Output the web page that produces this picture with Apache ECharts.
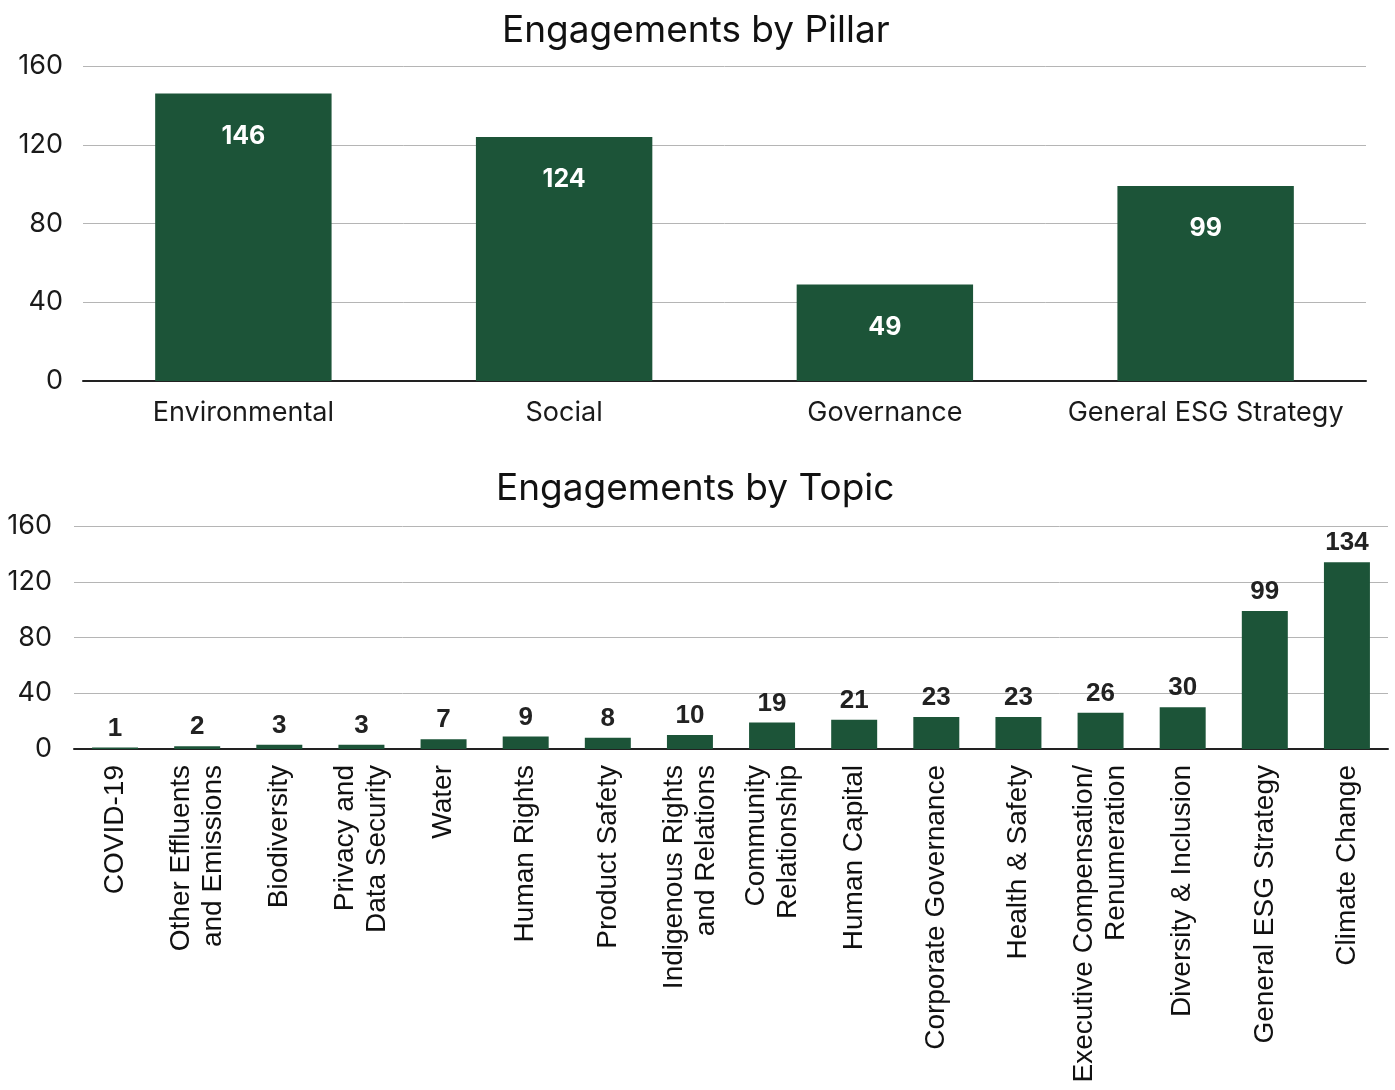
<!DOCTYPE html>
<html>
<head>
<meta charset="utf-8">
<style>
  html, body { margin: 0; padding: 0; background: #ffffff; }
  #chart { width: 1395px; height: 1090px; }
</style>
<script src="https://cdn.jsdelivr.net/npm/echarts@6/dist/echarts.min.js"></script>
</head>
<body>
<div id="chart"></div>
<script>
// Engagement counts by ESG pillar
const pillarNames = ['Environmental', 'Social', 'Governance', 'General ESG Strategy'];
const pillarValues = [146, 124, 49, 99];

// Engagement counts by topic (ascending order)
const topicNames = [
  'COVID-19',
  'Other Effluents\nand Emissions',
  'Biodiversity',
  'Privacy and\nData Security',
  'Water',
  'Human Rights',
  'Product Safety',
  'Indigenous Rights\nand Relations',
  'Community\nRelationship',
  'Human Capital',
  'Corporate Governance',
  'Health & Safety',
  'Executive Compensation/\nRenumeration',
  'Diversity & Inclusion',
  'General ESG Strategy',
  'Climate Change'
];
const topicValues = [1, 2, 3, 3, 7, 9, 8, 10, 19, 21, 23, 23, 26, 30, 99, 134];

// Shared value-axis ticks
const yMin = 0;
const yMax = 160;
const yStep = 40;

const barColor = '#1c5438';
const titleFont = 'Inter, "Noto Sans", sans-serif';
const labelFont = '"Liberation Sans", Arial, sans-serif';

const chart = echarts.init(document.getElementById('chart'), null, { renderer: 'canvas' });

const valueAxisBase = {
  type: 'value',
  min: yMin,
  max: yMax,
  interval: yStep,
  axisLine: { show: false },
  axisTick: { show: false },
  splitLine: { lineStyle: { color: '#b5b5b5', width: 1 } }
};

chart.setOption({
  animation: false,
  title: [
    {
      text: 'Engagements by Pillar',
      left: 497,
      top: 7,
      textStyle: { fontFamily: titleFont, fontSize: 37, fontWeight: 'normal', color: '#111' }
    },
    {
      text: 'Engagements by Topic',
      left: 491,
      top: 465,
      textStyle: { fontFamily: titleFont, fontSize: 37, fontWeight: 'normal', color: '#111' }
    }
  ],
  grid: [
    { left: 83, right: 29, top: 66, height: 315 },
    { left: 74, right: 7, top: 526, height: 223 }
  ],
  xAxis: [
    {
      type: 'category',
      gridIndex: 0,
      data: pillarNames,
      axisLine: { lineStyle: { color: '#222', width: 2 } },
      axisTick: { show: false },
      axisLabel: { fontFamily: titleFont, fontSize: 27, color: '#1a1a1a', margin: 18, interval: 0 }
    },
    {
      type: 'category',
      gridIndex: 1,
      data: topicNames,
      axisLine: { lineStyle: { color: '#222', width: 2 } },
      axisTick: { show: false },
      axisLabel: {
        fontFamily: labelFont, fontSize: 28, color: '#111', margin: 16,
        rotate: 90, interval: 0, lineHeight: 32
      }
    }
  ],
  yAxis: [
    Object.assign({}, valueAxisBase, {
      gridIndex: 0,
      axisLabel: { fontFamily: titleFont, fontSize: 27, color: '#1a1a1a', margin: 20 }
    }),
    Object.assign({}, valueAxisBase, {
      gridIndex: 1,
      axisLabel: { fontFamily: titleFont, fontSize: 27, color: '#1a1a1a', margin: 22 }
    })
  ],
  series: [
    {
      type: 'bar',
      xAxisIndex: 0,
      yAxisIndex: 0,
      data: pillarValues,
      barWidth: '55%',
      itemStyle: { color: barColor },
      label: {
        show: true,
        position: 'insideTop',
        distance: 30,
        fontFamily: titleFont,
        fontSize: 25,
        fontWeight: 'bold',
        color: '#ffffff'
      }
    },
    {
      type: 'bar',
      xAxisIndex: 1,
      yAxisIndex: 1,
      data: topicValues,
      barWidth: '56%',
      itemStyle: { color: barColor },
      label: {
        show: true,
        position: 'top',
        distance: 6,
        fontFamily: labelFont,
        fontSize: 26,
        fontWeight: 'bold',
        color: '#222'
      }
    }
  ]
});
</script>
</body>
</html>
